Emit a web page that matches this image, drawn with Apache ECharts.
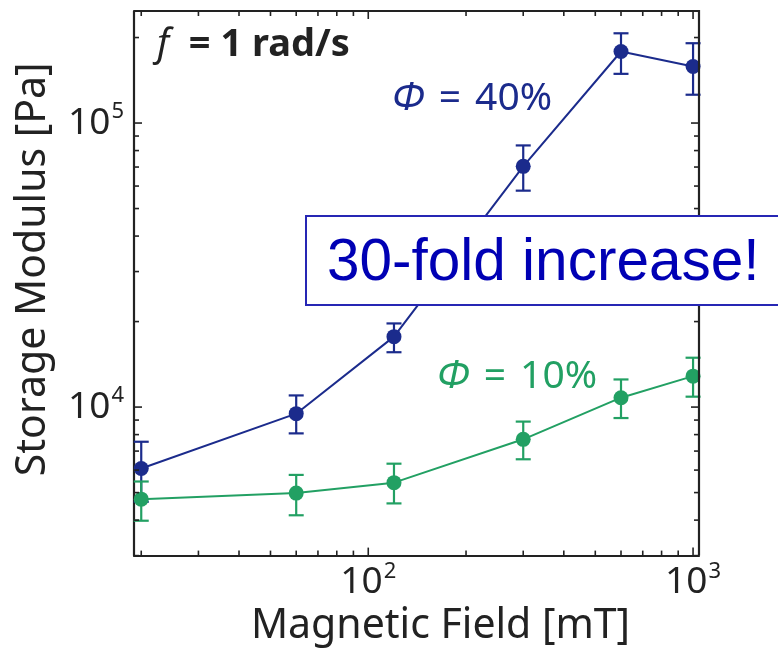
<!DOCTYPE html>
<html><head><meta charset="utf-8">
<script src="https://cdn.jsdelivr.net/npm/echarts@6/dist/echarts.min.js"></script>
<style>html,body{margin:0;padding:0;background:#fff}#c{width:778px;height:652px}</style>
</head><body><div id="c"></div>
<script>
// ---- data ----
const fieldMT = [20, 60, 120, 300, 600, 1000];
const phi40 = [6080, 9480, 17700, 70400, 178600, 158200];
const phi40Lo = [4640, 8080, 15600, 57800, 149000, 125800];
const phi40Hi = [7550, 10990, 19700, 83400, 207000, 191000];
const phi10 = [4740, 4980, 5420, 7700, 10790, 12850];
const phi10Lo = [3980, 4160, 4580, 6550, 9150, 10880];
const phi10Hi = [5470, 5770, 6320, 8890, 12510, 14920];
const xMajorTicks = [100, 1000];
const xMinorTicks = [20, 30, 40, 50, 60, 70, 80, 90, 200, 300, 400, 500, 600, 700, 800, 900];
const yMajorTicks = [1e4, 1e5];
const yMinorTicks = [3000, 4000, 5000, 6000, 7000, 8000, 9000, 20000, 30000, 40000, 50000, 60000, 70000, 80000, 90000, 200000];
const xRange = [19, 1043];
const yRange = [3000, 248000];

const BLUE = '#1b2b8c';
const GREEN = '#22a063';
const AXIS = '#222222';
const FONT = '"Noto Sans", "Open Sans", sans-serif';

function pairs(xs, ys) { return xs.map((x, i) => [x, ys[i]]); }
function bars(xs, lo, hi) { return xs.map((x, i) => [x, lo[i], hi[i]]); }

function powLabel(v) {
  const e = Math.log10(v);
  const r = Math.round(e);
  if (Math.abs(e - r) > 1e-6) return '';
  return '{b|10}{s|' + r + '}';
}
const labelRich = {
  b: { fontSize: 37, fontFamily: FONT, color: AXIS, lineHeight: 44 },
  s: { fontSize: 22, fontFamily: FONT, color: AXIS, verticalAlign: 'top', lineHeight: 44, padding: [0, 0, 16, 1] }
};

function errorBarSeries(color, data) {
  return {
    type: 'custom',
    data: data,
    encode: { x: 0, y: [1, 2] },
    z: 3,
    silent: true,
    renderItem: function (params, api) {
      const x = api.value(0);
      const lo = api.coord([x, api.value(1)]);
      const hi = api.coord([x, api.value(2)]);
      const w = 7.5;
      const st = { stroke: color, lineWidth: 2.2 };
      return {
        type: 'group',
        children: [
          { type: 'line', shape: { x1: lo[0], y1: lo[1], x2: hi[0], y2: hi[1] }, style: st },
          { type: 'line', shape: { x1: lo[0] - w, y1: lo[1], x2: lo[0] + w, y2: lo[1] }, style: st },
          { type: 'line', shape: { x1: hi[0] - w, y1: hi[1], x2: hi[0] + w, y2: hi[1] }, style: st }
        ]
      };
    }
  };
}

const tickSeries = {
  type: 'custom',
  data: [[fieldMT[0], phi40[0]]],
  z: 6,
  silent: true,
  clip: false,
  renderItem: function (params, api) {
    const cs = params.coordSys;
    const left = cs.x, right = cs.x + cs.width, top = cs.y, bottom = cs.y + cs.height;
    const st = { stroke: AXIS, lineWidth: 1.6 };
    const ch = [];
    const addX = (v, len) => {
      const p = api.coord([v, yRange[0]]);
      ch.push({ type: 'line', shape: { x1: p[0], y1: bottom, x2: p[0], y2: bottom - len }, style: st });
      ch.push({ type: 'line', shape: { x1: p[0], y1: top, x2: p[0], y2: top + len }, style: st });
    };
    const addY = (v, len) => {
      const p = api.coord([xRange[0], v]);
      ch.push({ type: 'line', shape: { x1: left, y1: p[1], x2: left + len, y2: p[1] }, style: st });
      ch.push({ type: 'line', shape: { x1: right, y1: p[1], x2: right - len, y2: p[1] }, style: st });
    };
    xMajorTicks.forEach(v => addX(v, 8));
    xMinorTicks.forEach(v => addX(v, 5));
    yMajorTicks.forEach(v => addY(v, 8));
    yMinorTicks.forEach(v => addY(v, 5));
    return { type: 'group', children: ch };
  }
};

const chart = echarts.init(document.getElementById('c'), null, { renderer: 'canvas' });
chart.setOption({
  animation: false,
  backgroundColor: '#ffffff',
  grid: { left: 134, right: 79, top: 11, bottom: 95, containLabel: false },
  xAxis: {
    type: 'log', logBase: 10, min: xRange[0], max: xRange[1],
    name: 'Magnetic Field [mT]', nameLocation: 'middle', nameGap: 44,
    nameTextStyle: { fontSize: 41, fontFamily: FONT, color: AXIS, padding: [0, 0, 0, 48] },
    axisLine: { show: true, lineStyle: { color: AXIS, width: 2.2 } },
    axisTick: { show: false },
    splitLine: { show: false },
    axisLabel: { formatter: powLabel, rich: labelRich, margin: 5, showMinLabel: false, showMaxLabel: false }
  },
  yAxis: {
    type: 'log', logBase: 10, min: yRange[0], max: yRange[1],
    name: 'Storage Modulus [Pa]', nameLocation: 'middle', nameGap: 80,
    nameTextStyle: { fontSize: 41, fontFamily: FONT, color: AXIS, padding: [0, 0, 0, 28] },
    axisLine: { show: true, lineStyle: { color: AXIS, width: 2.2 } },
    axisTick: { show: false },
    splitLine: { show: false },
    axisLabel: { formatter: powLabel, rich: labelRich, margin: 10, showMinLabel: false, showMaxLabel: false }
  },
  series: [
    errorBarSeries(BLUE, bars(fieldMT, phi40Lo, phi40Hi)),
    errorBarSeries(GREEN, bars(fieldMT, phi10Lo, phi10Hi)),
    {
      name: 'Φ = 40%', type: 'line', data: pairs(fieldMT, phi40), z: 4,
      symbol: 'circle', symbolSize: 15, clip: false,
      itemStyle: { color: BLUE }, lineStyle: { color: BLUE, width: 2 }
    },
    {
      name: 'Φ = 10%', type: 'line', data: pairs(fieldMT, phi10), z: 4,
      symbol: 'circle', symbolSize: 15, clip: false,
      itemStyle: { color: GREEN }, lineStyle: { color: GREEN, width: 2 }
    },
    tickSeries,
    {
      // right and top frame lines
      type: 'custom', data: [[fieldMT[0], phi40[0]]], z: 6, silent: true, clip: false,
      renderItem: function (params) {
        const cs = params.coordSys;
        return {
          type: 'polyline',
          shape: { points: [[cs.x, cs.y], [cs.x + cs.width, cs.y], [cs.x + cs.width, cs.y + cs.height]] },
          style: { stroke: AXIS, lineWidth: 2.2, fill: null }
        };
      }
    }
  ],
  graphic: [
    {
      type: 'text', left: 157, top: 26, z: 10,
      style: {
        text: '{i|f}{b|\u00a0\u00a0=\u00a01 rad/s}',
        rich: {
          i: { fontSize: 38, fontStyle: 'italic', fontFamily: FONT, fill: AXIS },
          b: { fontSize: 38, fontWeight: 'bold', fontFamily: FONT, fill: AXIS }
        }
      }
    },
    {
      type: 'text', left: 392, top: 79, z: 10,
      style: {
        text: '{i|Φ} {e|=} 40%',
        fontSize: 39, fontFamily: FONT, fill: BLUE,
        rich: {
          i: { fontSize: 39, fontStyle: 'italic', fontFamily: FONT, fill: BLUE },
          e: { fontSize: 39, fontFamily: FONT, fill: BLUE, padding: [0, 4, 0, 4] }
        }
      }
    },
    {
      type: 'text', left: 437, top: 357, z: 10,
      style: {
        text: '{i|Φ} {e|=} 10%',
        fontSize: 39, fontFamily: FONT, fill: GREEN,
        rich: {
          i: { fontSize: 39, fontStyle: 'italic', fontFamily: FONT, fill: GREEN },
          e: { fontSize: 39, fontFamily: FONT, fill: GREEN, padding: [0, 4, 0, 4] }
        }
      }
    },
    {
      type: 'group', z: 20,
      children: [
        {
          type: 'rect', shape: { x: 306, y: 216, width: 500, height: 89 }, z: 20,
          style: { fill: '#ffffff', stroke: '#2626b4', lineWidth: 2 }
        },
        {
          type: 'text', x: 327, y: 264, z: 21,
          style: {
            text: '30-fold increase!', fontSize: 58.5, fontFamily: '"Liberation Sans", Arial, sans-serif',
            fill: '#0000b4', verticalAlign: 'middle', align: 'left'
          }
        }
      ]
    }
  ]
});
</script>
</body></html>
